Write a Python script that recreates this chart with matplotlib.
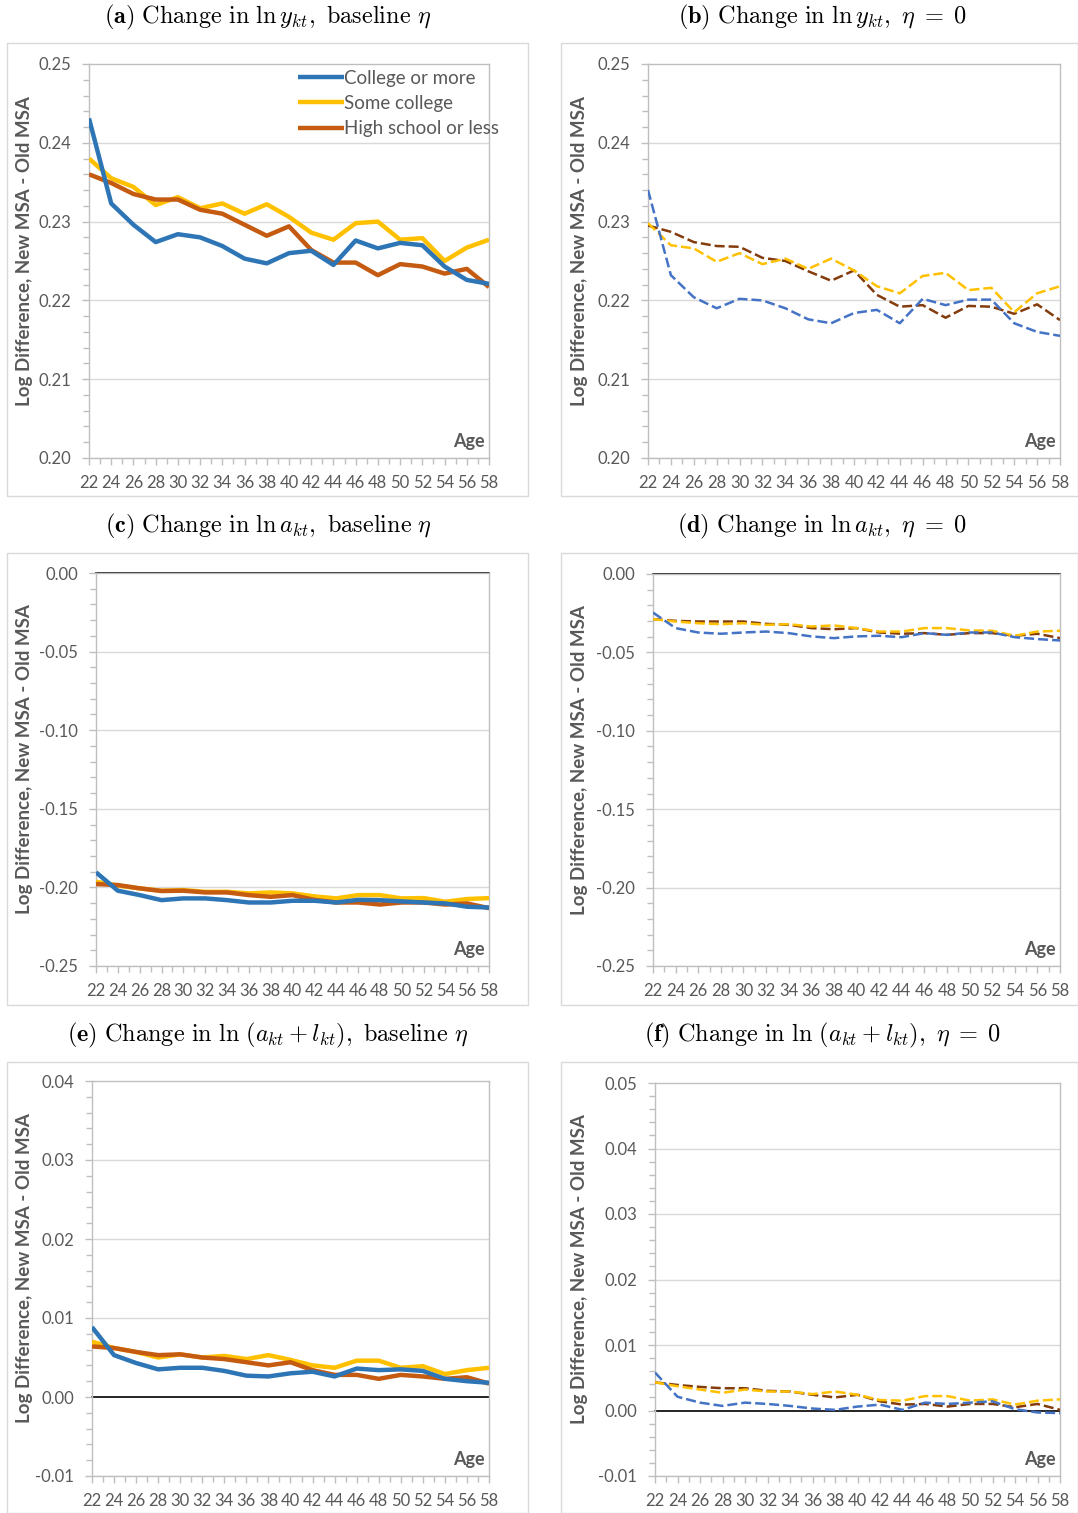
import matplotlib
matplotlib.use("Agg")
import matplotlib.pyplot as plt
from matplotlib.patches import Rectangle
from matplotlib.ticker import MultipleLocator, FixedLocator
import numpy as np

plt.rcParams['mathtext.fontset'] = 'cm'
plt.rcParams['font.family'] = ['Lato', 'DejaVu Sans']

ages = [22, 24, 26, 28, 30, 32, 34, 36, 38, 40, 42, 44, 46, 48, 50, 52, 54, 56, 58]
labels = ["College or more", "Some college", "High school or less"]

# (a) ln y, baseline eta
a_college = [0.2431, 0.2323, 0.2296, 0.2274, 0.2284, 0.2280, 0.2269, 0.2253, 0.2247, 0.2260,
             0.2263, 0.2245, 0.2276, 0.2266, 0.2273, 0.2270, 0.2243, 0.2226, 0.2221]
a_some = [0.2380, 0.2355, 0.2344, 0.2321, 0.2331, 0.2317, 0.2323, 0.2310, 0.2322, 0.2306,
          0.2286, 0.2277, 0.2298, 0.2300, 0.2277, 0.2279, 0.2250, 0.2267, 0.2277]
a_hs = [0.2360, 0.2349, 0.2335, 0.2328, 0.2328, 0.2315, 0.2310, 0.2296, 0.2282, 0.2294,
        0.2264, 0.2248, 0.2248, 0.2232, 0.2246, 0.2243, 0.2234, 0.2240, 0.2217]

# (b) ln y, eta = 0
b_college = [0.2340, 0.2232, 0.2204, 0.2190, 0.2202, 0.2200, 0.2190, 0.2176, 0.2171, 0.2184,
             0.2188, 0.2171, 0.2202, 0.2194, 0.2201, 0.2201, 0.2171, 0.2160, 0.2155]
b_some = [0.2298, 0.2270, 0.2266, 0.2249, 0.2260, 0.2246, 0.2253, 0.2240, 0.2253, 0.2238,
          0.2218, 0.2209, 0.2231, 0.2235, 0.2213, 0.2216, 0.2185, 0.2209, 0.2218]
b_hs = [0.2295, 0.2287, 0.2274, 0.2269, 0.2268, 0.2254, 0.2250, 0.2237, 0.2225, 0.2238,
        0.2207, 0.2192, 0.2194, 0.2178, 0.2193, 0.2192, 0.2183, 0.2195, 0.2175]

# (c) ln a, baseline eta
c_college = [-0.1904, -0.2021, -0.2049, -0.2081, -0.2070, -0.2070, -0.2081, -0.2096, -0.2096, -0.2085,
             -0.2085, -0.2096, -0.2079, -0.2081, -0.2089, -0.2096, -0.2102, -0.2123, -0.2128]
c_some = [-0.1964, -0.1989, -0.2006, -0.2021, -0.2017, -0.2028, -0.2028, -0.2038, -0.2032, -0.2038,
          -0.2057, -0.2070, -0.2049, -0.2049, -0.2070, -0.2068, -0.2091, -0.2074, -0.2068]
c_hs = [-0.1979, -0.1985, -0.2006, -0.2023, -0.2021, -0.2032, -0.2032, -0.2049, -0.2060, -0.2049,
        -0.2079, -0.2096, -0.2096, -0.2109, -0.2096, -0.2096, -0.2109, -0.2102, -0.2132]

# (d) ln a, eta = 0
d_college = [-0.0246, -0.0345, -0.0373, -0.0381, -0.0373, -0.0367, -0.0377, -0.0398, -0.0409, -0.0398,
             -0.0394, -0.0403, -0.0377, -0.0388, -0.0373, -0.0373, -0.0403, -0.0415, -0.0424]
d_some = [-0.0288, -0.0303, -0.0314, -0.0320, -0.0314, -0.0324, -0.0320, -0.0335, -0.0328, -0.0345,
          -0.0367, -0.0367, -0.0345, -0.0345, -0.0360, -0.0362, -0.0394, -0.0367, -0.0362]
d_hs = [-0.0288, -0.0299, -0.0303, -0.0303, -0.0303, -0.0318, -0.0324, -0.0345, -0.0352, -0.0345,
        -0.0373, -0.0381, -0.0377, -0.0388, -0.0377, -0.0377, -0.0394, -0.0381, -0.0409]

# (e) ln(a+l), baseline eta
e_college = [0.00885, 0.0053, 0.0043, 0.0035, 0.0037, 0.0037, 0.0033, 0.0027, 0.0026, 0.0030,
             0.0032, 0.0026, 0.0036, 0.0034, 0.0035, 0.0033, 0.0023, 0.0020, 0.0018]
e_some = [0.0070, 0.0062, 0.0057, 0.0050, 0.0054, 0.0050, 0.0052, 0.0048, 0.0053, 0.0047,
          0.0040, 0.0037, 0.0046, 0.0046, 0.0037, 0.0039, 0.0029, 0.0034, 0.0037]
e_hs = [0.0064, 0.0062, 0.0057, 0.0053, 0.0054, 0.0050, 0.0048, 0.0044, 0.0040, 0.0044,
        0.0034, 0.0028, 0.0028, 0.0023, 0.0028, 0.0026, 0.0023, 0.0025, 0.0017]

# (f) ln(a+l), eta = 0
f_college = [0.0058, 0.0021, 0.0012, 0.0007, 0.0012, 0.0010, 0.0007, 0.0003, 0.0001, 0.0006,
             0.0009, 0.0001, 0.0012, 0.0010, 0.0012, 0.0014, 0.0002, -0.0003, -0.0004]
f_some = [0.0043, 0.0037, 0.0032, 0.0027, 0.0032, 0.0029, 0.0029, 0.0025, 0.0029, 0.0024,
          0.0016, 0.0015, 0.0022, 0.0022, 0.0015, 0.0017, 0.0009, 0.0015, 0.0017]
f_hs = [0.0043, 0.0039, 0.0036, 0.0034, 0.0034, 0.0030, 0.0029, 0.0024, 0.0020, 0.0024,
        0.0014, 0.0009, 0.0010, 0.0006, 0.0010, 0.0010, 0.0005, 0.0010, 0.0001]

titles = [
    r"$\mathbf{(a)}\ \mathrm{Change\ in}\ \ln y_{kt},\ \mathrm{baseline}\ \eta$",
    r"$\mathbf{(b)}\ \mathrm{Change\ in}\ \ln y_{kt},\ \eta\;=\;0$",
    r"$\mathbf{(c)}\ \mathrm{Change\ in}\ \ln a_{kt},\ \mathrm{baseline}\ \eta$",
    r"$\mathbf{(d)}\ \mathrm{Change\ in}\ \ln a_{kt},\ \eta\;=\;0$",
    r"$\mathbf{(e)}\ \mathrm{Change\ in}\ \ln\,(a_{kt}+l_{kt}),\ \mathrm{baseline}\ \eta$",
    r"$\mathbf{(f)}\ \mathrm{Change\ in}\ \ln\,(a_{kt}+l_{kt}),\ \eta\;=\;0$",
]

W, H = 1078, 1513
fig = plt.figure(figsize=(W / 100, H / 100), dpi=100)

solid_colors = ["#2E75B6", "#FFC000", "#C55A11"]
dash_colors = ["#4472C4", "#FFC000", "#843C0C"]
gray = "#595959"

panels = [
    dict(data=(a_college, a_some, a_hs), box=(89, 64, 489, 458), ylim=(0.20, 0.25), major=0.01, minor=0.002,
         dashed=False, zero=False, legend=True),
    dict(data=(b_college, b_some, b_hs), box=(648, 64, 1060, 458), ylim=(0.20, 0.25), major=0.01, minor=0.002,
         dashed=True, zero=False, legend=False),
    dict(data=(c_college, c_some, c_hs), box=(96, 573, 489, 966), ylim=(-0.25, 0.0), major=0.05, minor=0.01,
         dashed=False, zero=True, legend=False),
    dict(data=(d_college, d_some, d_hs), box=(653, 574, 1060, 966), ylim=(-0.25, 0.0), major=0.05, minor=0.01,
         dashed=True, zero=True, legend=False),
    dict(data=(e_college, e_some, e_hs), box=(92, 1081, 489, 1476), ylim=(-0.01, 0.04), major=0.01, minor=0.002,
         dashed=False, zero=True, legend=False),
    dict(data=(f_college, f_some, f_hs), box=(655, 1083, 1060, 1476), ylim=(-0.01, 0.05), major=0.01, minor=0.002,
         dashed=True, zero=True, legend=False),
]

frames = [(7, 43, 528, 496), (561, 43, 1078, 496),
          (7, 553, 528, 1005), (561, 553, 1078, 1005),
          (7, 1062, 528, 1513), (561, 1062, 1078, 1513)]
title_y = [17, 17, 526, 526, 1035, 1035]
title_x = [268, 822, 268, 822, 268, 822]
ylabel_x = [25, 579, 25, 579, 25, 579]

for i, p in enumerate(panels):
    fx0, fy0, fx1, fy1 = frames[i]
    fig.patches.append(Rectangle((fx0 / W, 1 - fy1 / H), (fx1 - fx0) / W, (fy1 - fy0) / H,
                                 transform=fig.transFigure, fill=False, edgecolor="#D9D9D9",
                                 linewidth=1.0, zorder=0))
    x0, y0, x1, y1 = p["box"]
    ax = fig.add_axes([x0 / W, 1 - y1 / H, (x1 - x0) / W, (y1 - y0) / H])
    ax.set_xlim(22, 58)
    ax.set_ylim(*p["ylim"])
    lo, hi = p["ylim"]
    majors = np.round(np.arange(lo, hi + p["major"] / 2, p["major"]), 4)
    minors = np.round(np.arange(lo, hi + p["minor"] / 2, p["minor"]), 4)
    ax.yaxis.set_major_locator(FixedLocator(majors))
    ax.yaxis.set_minor_locator(FixedLocator(minors))
    ax.set_yticklabels(["{:.2f}".format(v) if abs(v) > 1e-9 else "0.00" for v in majors])
    ax.xaxis.set_major_locator(FixedLocator(ages))
    ax.xaxis.set_minor_locator(MultipleLocator(1))
    ax.set_xticklabels([str(a) for a in ages])
    for v in majors:
        if abs(v) > 1e-9 and v < hi - 1e-9:
            ax.axhline(v, color="#D9D9D9", linewidth=1.0, zorder=0)
    if p["zero"]:
        ax.axhline(0.0, color="black", linewidth=1.2, zorder=1, clip_on=False)
    for s in ax.spines.values():
        s.set_color("#BFBFBF")
        s.set_linewidth(1.0)
    ax.tick_params(axis="both", which="major", length=5, width=1, color="#BFBFBF",
                   labelcolor=gray, labelsize=12)
    ax.tick_params(axis="both", which="minor", length=4, width=1, color="#BFBFBF")
    ax.tick_params(axis="x", which="major", pad=7)
    ax.tick_params(axis="y", which="major", pad=8)
    cols = dash_colors if p["dashed"] else solid_colors
    for j, series in enumerate(p["data"]):
        if p["dashed"]:
            ax.plot(ages, series, color=cols[j], linewidth=1.8, linestyle=(0, (4.0, 1.6)),
                    label=labels[j], zorder=3 + (2 - j))
        else:
            ax.plot(ages, series, color=cols[j], linewidth=3.2, label=labels[j],
                    zorder=3 + (2 - j) if j != 2 else 4, solid_capstyle="butt")
    if p["legend"]:
        leg = ax.legend(loc="upper right", frameon=False, fontsize=13.5, handlelength=2.5,
                        handletextpad=0.0, labelspacing=0.45, borderaxespad=0.0,
                        bbox_to_anchor=(1.045, 1.005))
        for t in leg.get_texts():
            t.set_color(gray)
    ax.text(0.99, 0.02, "Age", transform=ax.transAxes, ha="right", va="bottom",
            fontsize=13, fontweight="bold", color=gray)
    fig.text(title_x[i] / W, 1 - title_y[i] / H, titles[i], ha="center", va="center", fontsize=17.5)
    fig.text(ylabel_x[i] / W, 1 - ((y0 + y1) / 2 - 10) / H, "Log Difference, New MSA - Old MSA",
             rotation=90, ha="center", va="center", fontsize=13.5, fontweight="bold", color=gray)

fig.savefig("out.png", dpi=100)
